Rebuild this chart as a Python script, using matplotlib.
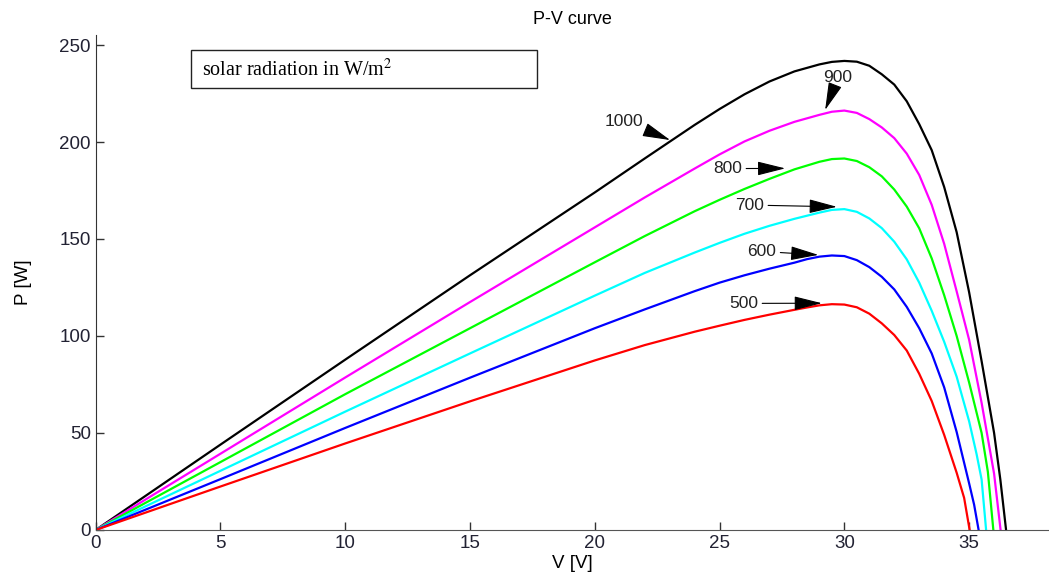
import matplotlib
matplotlib.use("Agg")
import matplotlib.pyplot as plt
from matplotlib.patches import Rectangle

# P-V curves, one pair of lists per irradiance level
v_1000 = [0, 5, 10, 15, 20, 22, 24, 25, 26, 27, 28, 29, 29.5, 30, 30.5, 31, 31.5, 32, 32.5, 33, 33.5, 34, 34.5, 35, 35.5, 36, 36.25, 36.48]
p_1000 = [0, 44, 87.8, 131.3, 174, 191.5, 208.8, 217, 224.6, 231.2, 236.4, 240.0, 241.3, 241.8, 241.4, 239.3, 234.9, 229.6, 221, 209.2, 195.8, 176.8, 153.5, 122.5, 87, 50, 26, 0]

v_900 = [0, 5, 10, 15, 20, 22, 24, 25, 26, 27, 28, 29, 29.5, 30, 30.5, 31, 31.5, 32, 32.5, 33, 33.5, 34, 34.5, 35, 35.5, 36, 36.26]
p_900 = [0, 39.3, 78.6, 117.5, 156, 171.4, 186.3, 193.6, 200.3, 205.8, 210.4, 214.0, 215.6, 216.2, 215.0, 211.8, 207.5, 202, 194, 183, 167.6, 147.5, 123, 98, 65.5, 29, 0]

v_800 = [0, 5, 10, 15, 20, 22, 24, 25, 26, 27, 28, 29, 29.5, 30, 30.5, 31, 31.5, 32, 32.5, 33, 33.5, 34, 34.5, 35, 35.5, 35.75, 35.97]
p_800 = [0, 35, 70, 104, 138, 151.5, 164.3, 170.2, 175.8, 181, 185.9, 189.8, 191.2, 191.5, 190.2, 187, 182.3, 175.5, 166.7, 155.5, 140, 121, 100, 76, 50, 30, 0]

v_700 = [0, 5, 10, 15, 20, 22, 24, 25, 26, 27, 28, 29, 29.5, 30, 30.5, 31, 31.5, 32, 32.5, 33, 33.5, 34, 34.5, 35, 35.3, 35.5, 35.68]
p_700 = [0, 30.5, 61, 91, 120.8, 132.5, 143, 148, 152.7, 156.8, 160.4, 163.6, 165.0, 165.4, 164.0, 160.6, 155.6, 148.6, 139.5, 127.5, 113, 97, 79, 56, 39, 26, 0]

v_600 = [0, 5, 10, 15, 20, 22, 24, 25, 26, 27, 28, 28.5, 29, 29.5, 30, 30.5, 31, 31.5, 32, 32.5, 33, 33.5, 34, 34.5, 35, 35.2, 35.38]
p_600 = [0, 26.2, 52.6, 78.5, 104, 113.7, 123.1, 127.5, 131.3, 134.7, 137.8, 139.6, 140.9, 141.5, 141.2, 139.1, 135.5, 130.5, 124, 115, 104, 91, 73.5, 50.5, 24, 13, 0]

v_500 = [0, 5, 10, 15, 20, 22, 24, 25, 26, 27, 28, 28.5, 29, 29.5, 30, 30.5, 31, 31.5, 32, 32.5, 33, 33.5, 34, 34.5, 34.8, 35.02]
p_500 = [0, 22.4, 44.6, 66.3, 87.4, 95.3, 102.2, 105.3, 108.3, 111.0, 113.5, 114.7, 115.8, 116.4, 116.2, 114.8, 111.5, 106.5, 100.5, 92.5, 80.5, 66.5, 49, 29.5, 16.5, 0]

labels = ['1000', '900', '800', '700', '600', '500']
colors = ['black', '#ff00ff', '#00ff00', '#00ffff', '#0000ff', '#ff0000']
curves = [(v_1000, p_1000), (v_900, p_900), (v_800, p_800),
          (v_700, p_700), (v_600, p_600), (v_500, p_500)]

# where each label sits and where its arrow points (data coords)
label_pos = [(21.17, 210.8), (29.75, 233.5), (25.32, 186.3), (26.2, 167.5), (26.69, 143.6), (25.96, 116.8)]
arrow_tip = [(23.02, 201), (29.23, 216.5), (27.63, 186.4), (29.7, 166.6), (28.96, 141.8), (29.1, 116.9)]

fig = plt.figure(figsize=(10.49, 5.77), dpi=100)
ax = fig.add_axes([0.0912, 0.0815, 0.9088, 0.8573])

for (v, p), c in zip(curves, colors):
    ax.plot(v, p, color=c, linewidth=1.6, solid_joinstyle='round')

for lab, pos, tip in zip(labels, label_pos, arrow_tip):
    ax.annotate(lab, xy=tip, xytext=pos, ha='center', va='center',
                fontsize=12.5, family='Liberation Sans', color='#222222',
                arrowprops=dict(arrowstyle='-|>,head_length=1.4,head_width=0.35',
                                color='black', lw=0.8, shrinkA=1, shrinkB=0))

ax.set_xlim(0, 38.2)
ax.set_ylim(0, 255)
ax.set_xticks(range(0, 36, 5))
ax.set_yticks(range(0, 251, 50))
ax.tick_params(direction='in', length=6, width=1, labelsize=13.5, colors='#333333')
for t in ax.get_xticklabels() + ax.get_yticklabels():
    t.set_family('Liberation Sans')
    t.set_color('#222233')
ax.spines['top'].set_visible(False)
ax.spines['right'].set_visible(False)
ax.spines['left'].set_color('#333333')
ax.spines['bottom'].set_color('#555555')

ax.set_xlabel('V [V]', fontsize=13.5, family='Liberation Sans', labelpad=2)
ax.set_ylabel('P [W]', fontsize=13.5, family='Liberation Sans', labelpad=20)
ax.set_title('P-V curve', fontsize=13, family='Liberation Sans', pad=8)

# legend-like box in the upper left
box = Rectangle((0.100, 0.8935), 0.363, 0.0765, transform=ax.transAxes,
                fill=False, edgecolor='#222222', linewidth=1)
ax.add_patch(box)
ax.text(0.1115, 0.930, 'solar radiation in W/m$^2$', transform=ax.transAxes,
        ha='left', va='center', fontsize=14.5, family='Liberation Serif',
        math_fontfamily='stix')

fig.savefig('out.png', dpi=100)
